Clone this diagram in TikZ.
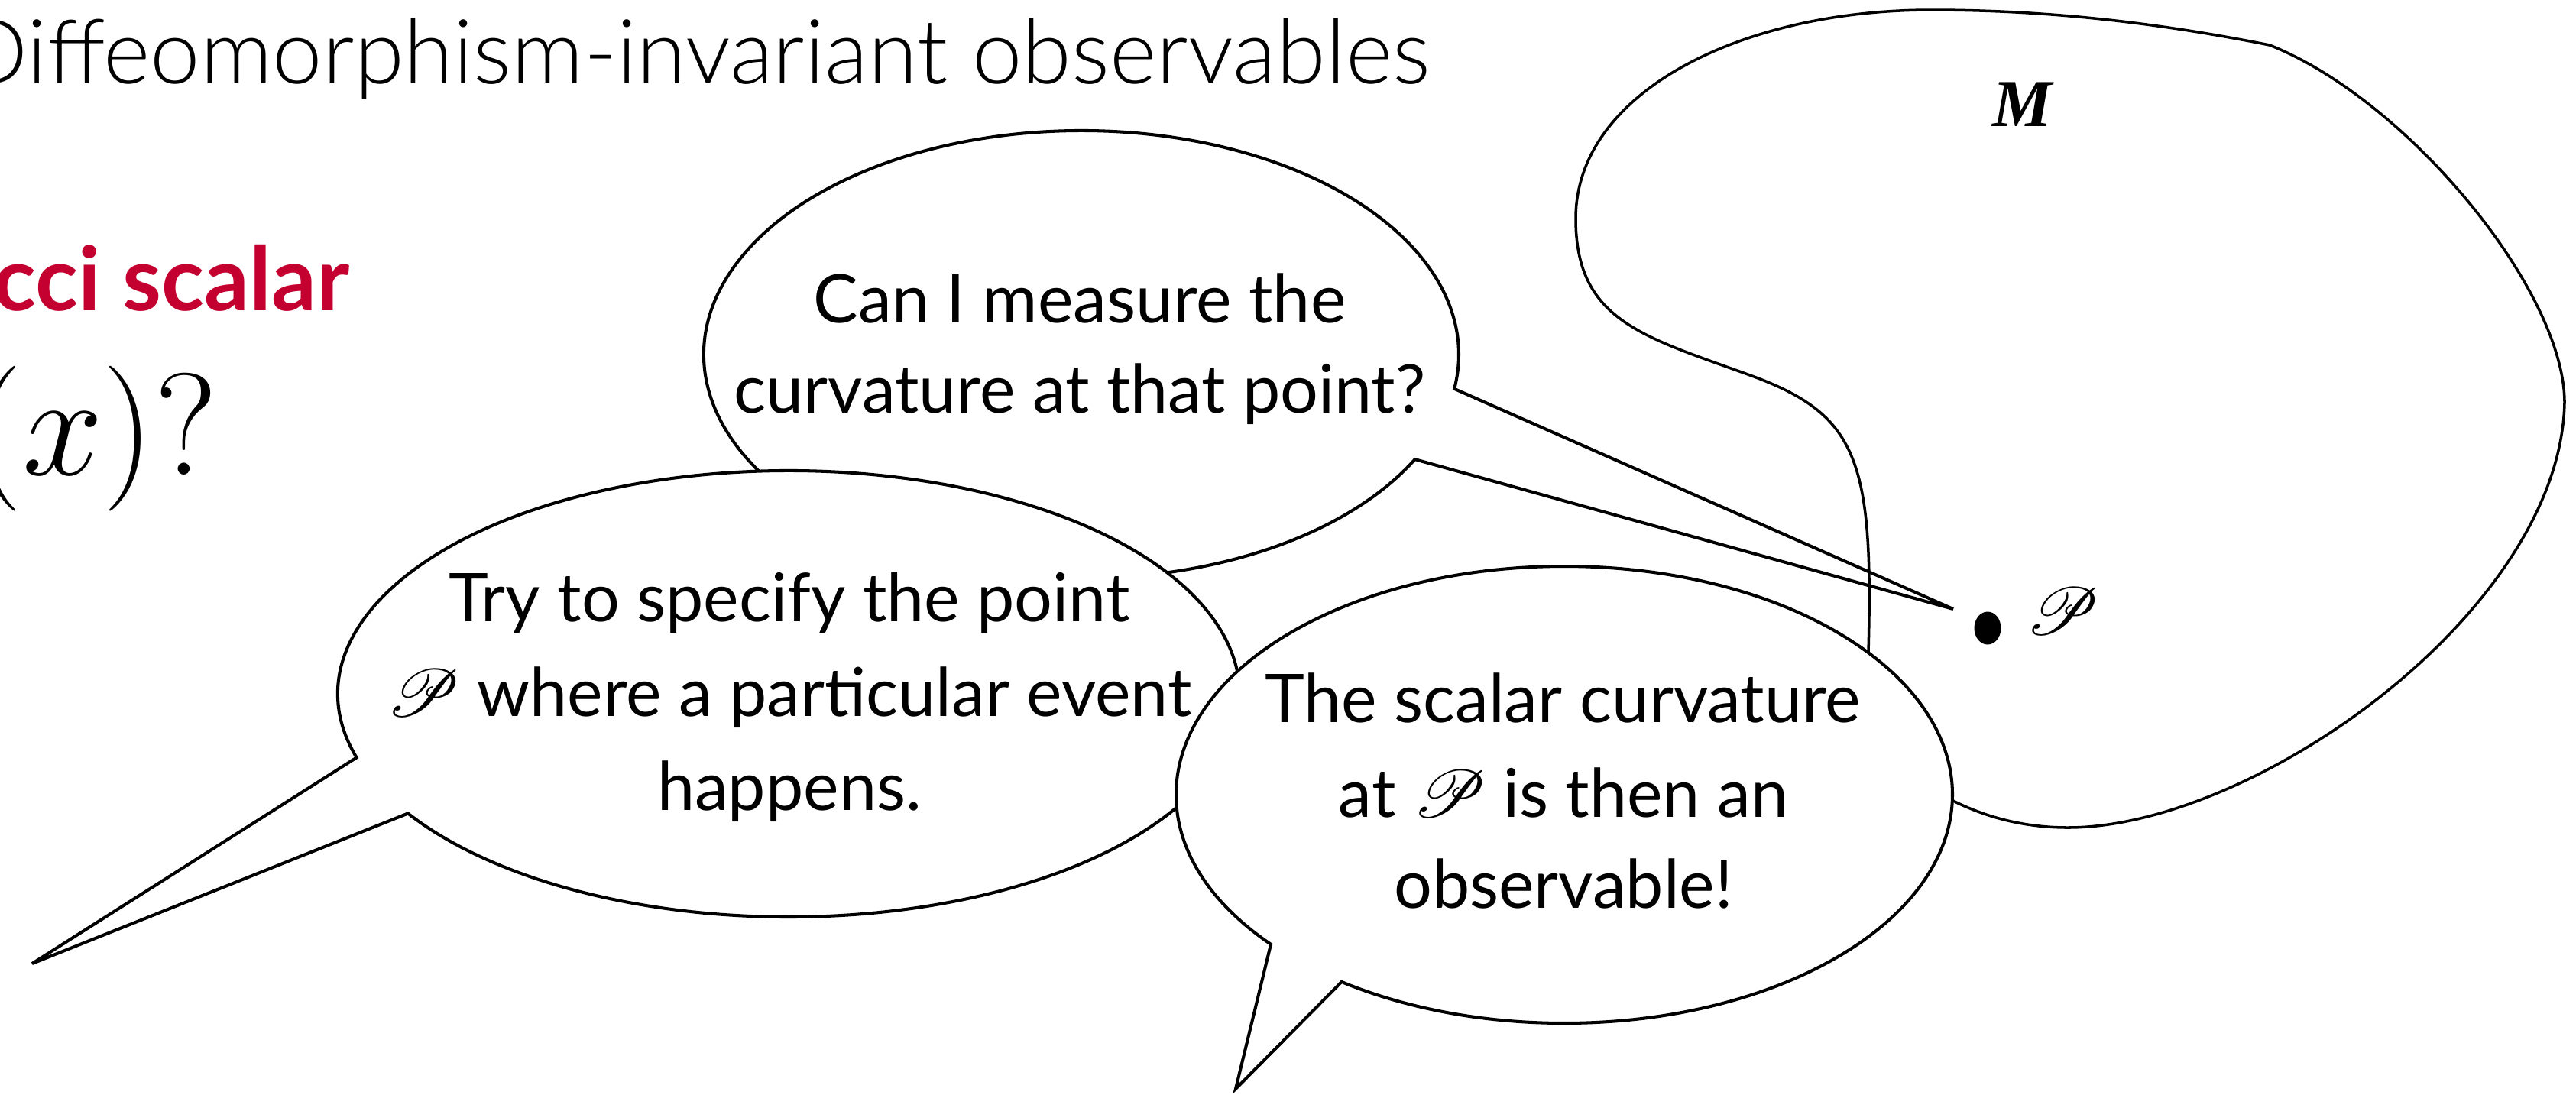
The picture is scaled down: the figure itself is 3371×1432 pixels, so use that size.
\RequirePackage{fix-cm}
\documentclass[tikz,border=0pt]{standalone}
\usepackage[no-math]{fontspec}
\usepackage{amsmath}
\usepackage{mathrsfs}
\setmainfont{Lato}
\newfontfamily\titlefont{Lato Light}
\newfontfamily\serifbi{Liberation Serif}
\definecolor{ricred}{RGB}{195,0,47}
\tikzset{
  bubble/.style={draw=black, line width=1.15pt, fill=white, line join=miter},
  manifold/.style={draw=black, line width=1.0pt},
  btext/.style={align=center, inner sep=0pt, anchor=base, font=\fontsize{25}{33}\selectfont},
}
\begin{document}
\begin{tikzpicture}[x=0.01cm, y=-0.01cm]
\useasboundingbox (0,0) rectangle (3371,1432);
% titles
\node[anchor=base east, inner sep=0pt, font=\titlefont\fontsize{33.4}{40}\selectfont] (title) at (1872,109) {Diffeomorphism-invariant observables};
\node[anchor=base east, inner sep=0pt, text=ricred, font=\bfseries\fontsize{33}{40}\selectfont] (ricci) at (458,406) {cci scalar};
\node[anchor=base east, inner sep=0pt, font=\fontsize{54}{60}\selectfont] (rx) at (285,621) {$(x)?$};
% bubble 1
\coordinate (c1) at (1415,464);
\coordinate (tip1) at (2556,797);
\draw[bubble] (c1) ++(27.9:494 and 293) arc[start angle=27.9, end angle=368.8, x radius=494, y radius=293] -- (tip1) -- cycle;
\node[btext] (t1a) at (1413,422) {Can I measure the};
\node[btext] (t1b) at (1413,540) {curvature at that point?};
% manifold
\coordinate (m0) at (2445,853);
\coordinate (m1) at (2290,491);
\coordinate (m2) at (2062,286);
\coordinate (m3) at (2527,13);
\coordinate (mk) at (2970,59);
\coordinate (m5) at (3356,527);
\coordinate (m6) at (2706,1083);
\coordinate (m7) at (2556,1048);
\draw[manifold] (m0) .. controls (2452,600) and (2430,542) .. (m1)
  .. controls (2150,440) and (2062,420) .. (m2)
  .. controls (2062,120) and (2280,13) .. (m3)
  .. controls (2700,13) and (2850,35) .. (mk)
  .. controls (3150,130) and (3356,380) .. (m5)
  .. controls (3350,800) and (2950,1083) .. (m6)
  .. controls (2650,1083) and (2600,1070) .. (m7);
\node[inner sep=0pt, font=\serifbi\bfseries\itshape\fontsize{25}{30}\selectfont] (M) at (2647,137) {M};
\fill[black] (2601,822) ellipse[x radius=17.5, y radius=21.5];
\coordinate (dot) at (2601,822);
\node[inner sep=0pt, font=\fontsize{27}{30}\selectfont] (Plabel) at (2699,800) {$\mathscr{P}$};
% bubble 2
\coordinate (c2) at (1032,908);
\coordinate (tip2) at (42,1261);
\draw[bubble] (c2) ++(163.4:590 and 292) arc[start angle=163.4, end angle=507.6, x radius=590, y radius=292] -- (tip2) -- cycle;
\node[btext] (t2a) at (1033,813) {Try to specify the point};
\node[btext] (t2b) at (1033,937) {$\mathscr{P}$ where a particular event};
\node[btext] (t2c) at (1033,1060) {happens.};
% bubble 3
\coordinate (c3) at (2047,1040);
\coordinate (tip3) at (1617,1425);
\draw[bubble] (c3) ++(139.1:508 and 299) arc[start angle=139.1, end angle=485, x radius=508, y radius=299] -- (tip3) -- cycle;
\node[btext] (t3a) at (2045,945) {The scalar curvature};
\node[btext] (t3b) at (2046,1069) {at $\mathscr{P}$ is then an};
\node[btext] (t3c) at (2046,1188) {observable!};
\end{tikzpicture}
\end{document}
